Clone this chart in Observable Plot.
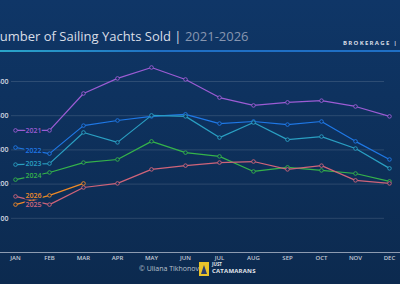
<!DOCTYPE html>
<html><head><meta charset="utf-8">
<script src="https://cdn.jsdelivr.net/npm/d3@7"></script>
<script src="https://cdn.jsdelivr.net/npm/@observablehq/plot@0.6"></script>
<style>
html,body{margin:0;padding:0;}
#wrap{position:relative;width:400px;height:284px;overflow:hidden;background:linear-gradient(#0f3667,#0c2a4f);font-family:"Open Sans",sans-serif;}
#title{position:absolute;left:-10px;top:27px;font-size:13px;font-weight:400;color:#d9dee7;white-space:nowrap;}
#title span{color:#8796b0;}
#brk{position:absolute;left:343px;top:39px;font-size:6px;font-weight:700;color:#d6dbe4;letter-spacing:1.3px;white-space:nowrap;}
#rule{position:absolute;left:0;top:50px;width:400px;height:1.5px;background:linear-gradient(90deg,#2aa6c9,#1f6fc4 40%,#1f6fc4);}
#plot{position:absolute;left:0;top:0;}
#credit{position:absolute;left:139px;top:264px;font-size:7px;color:#b9c1cd;white-space:nowrap;}
#logo{position:absolute;left:199px;top:262px;width:10px;height:14px;background:#e8c32a;}
#logo:after{content:"";position:absolute;left:2px;top:3px;border-left:3px solid transparent;border-right:3px solid transparent;border-bottom:9px solid #2b3d6b;}
#just{position:absolute;left:212px;top:262px;font-size:4.5px;font-weight:700;color:#e3e6ec;line-height:5px;white-space:nowrap;}
#cat{position:absolute;left:212px;top:267px;font-size:6px;font-weight:700;color:#e3e6ec;letter-spacing:0.2px;white-space:nowrap;}
</style></head>
<body>
<div id="wrap">
  <div id="plot"></div>
  <div id="title">Number of Sailing Yachts Sold | <span>2021-2026</span></div>
  <div id="brk">BROKERAGE | SAILING</div>
  <div id="rule"></div>
  <div id="credit">© Uliana Tikhonova</div>
  <div id="logo"></div>
  <div id="just">JUST</div>
  <div id="cat">CATAMARANS</div>
</div>
<script>
const months = ["JAN","FEB","MAR","APR","MAY","JUN","JUL","AUG","SEP","OCT","NOV","DEC"];
const years = ["2021","2022","2023","2024","2025","2026"];
const v2021 = [357,357,465,509,541,506,453,430,439,444,427,398];
const v2022 = [307,289,371,386,398,404,377,383,374,383,325,272];
const v2023 = [257,260,351,322,401,398,336,380,330,339,304,246];
const v2024 = [213,234,263,272,325,292,281,237,249,240,231,208];
const v2025 = [164,140,190,202,243,254,263,266,243,254,211,202];
const v2026 = [140,167,202];
const colors = ["#9c5cd4","#1f78e6","#2a9fc2","#35b34a","#cf6479","#f08a26"];
const yTicks = [100,200,300,400,500];
const labelShift = [0,0,0,0,-12,12];

const series = [v2021,v2022,v2023,v2024,v2025,v2026];
const data = years.flatMap((yr,i)=>series[i].map((v,j)=>({year:yr,month:months[j],value:v})));
const labels = years.map((yr,i)=>({year:yr,month:"JAN",value:(series[i][0]+series[i][1])/2+labelShift[i]}));
const bg = "#0e2f5b";

const chart = Plot.plot({
  width:400, height:284,
  marginLeft:11, marginRight:7, marginTop:81, marginBottom:32,
  style:{background:"transparent", color:"#d0d6e0", fontFamily:"Open Sans, sans-serif"},
  x:{type:"point", domain:months, padding:0},
  y:{domain:[0,500]},
  color:{domain:years, range:colors},
  marks:[
    Plot.ruleY(yTicks,{stroke:"#ffffff",strokeOpacity:0.13,strokeWidth:1,insetRight:9}),
    Plot.ruleY([0],{stroke:"#aeb8c8",strokeOpacity:0.8,strokeWidth:1,insetLeft:-11,insetRight:-7}),
    Plot.axisY({ticks:yTicks,tickSize:0,tickPadding:3,fontSize:7,fontWeight:600,fill:"#d4d9e2",tickFormat:d=>String(d),label:null}),
    Plot.axisX({tickSize:0,tickPadding:3,fontSize:6,fontWeight:600,fill:"#c3cad5",label:null}),
    Plot.line(data,{x:"month",y:"value",z:"year",stroke:"year",strokeWidth:1.2}),
    Plot.dot(data,{x:"month",y:"value",stroke:"year",fill:bg,r:1.8,strokeWidth:0.9}),
    Plot.text(labels,{x:"month",y:"value",text:"year",fill:"year",dx:18,fontSize:7,fontWeight:600,stroke:bg,strokeWidth:3,paintOrder:"stroke"})
  ]
});
document.getElementById("plot").appendChild(chart);
</script>
</body></html>
